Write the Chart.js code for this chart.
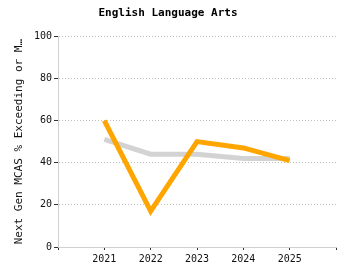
<!DOCTYPE html>
<html>
<head>
<meta charset="utf-8">
<script src="https://cdn.jsdelivr.net/npm/chart.js@4"></script>
<style>
html,body{margin:0;padding:0;background:#fff;}
#wrap{width:350px;height:280px;}
</style>
</head>
<body>
<div id="wrap"><canvas id="c" width="350" height="280"></canvas></div>
<script>
const years = [2021, 2022, 2023, 2024, 2025];
const schoolValues = [60, 17, 50, 47, 41];
const stateValues = [51, 44, 44, 42, 42];
const yTicks = [0, 20, 40, 60, 80, 100];
const chartTitle = 'English Language Arts';
const yTitle = 'Next Gen MCAS % Exceeding or M\u2026';

const FONT = "'DejaVu Sans Mono', monospace";

new Chart(document.getElementById('c'), {
  type: 'line',
  data: {
    datasets: [
      {
        label: 'School',
        data: years.map((y, i) => ({x: y, y: schoolValues[i]})),
        borderColor: '#FFA500',
        borderWidth: 5,
        pointRadius: 0,
        tension: 0,
        order: 0
      },
      {
        label: 'State',
        data: years.map((y, i) => ({x: y, y: stateValues[i]})),
        borderColor: '#D3D3D3',
        borderWidth: 5,
        pointRadius: 0,
        tension: 0,
        order: 1
      }
    ]
  },
  options: {
    responsive: false,
    animation: false,
    devicePixelRatio: 1,
    layout: {padding: {left: 0, right: 14, top: 0, bottom: 0}},
    plugins: {
      legend: {display: false},
      tooltip: {enabled: false},
      title: {
        display: true,
        text: chartTitle,
        color: '#000',
        font: {family: FONT, size: 11, weight: 'bold'},
        padding: {top: 7, bottom: 16}
      }
    },
    scales: {
      x: {
        type: 'linear',
        min: years[0] - 1,
        max: years[years.length - 1] + 1,
        ticks: {
          stepSize: 1,
          color: '#111',
          font: {family: FONT, size: 10},
          padding: 3,
          maxRotation: 0,
          callback: (v) => years.includes(v) ? String(v) : ''
        },
        grid: {drawOnChartArea: false, tickLength: 3, tickColor: '#333', tickWidth: 1},
        border: {color: '#d0d0d0', width: 1},
        afterFit: (s) => { s.height = 33; }
      },
      y: {
        min: 0,
        max: 100,
        afterBuildTicks: (s) => { s.ticks = yTicks.map(v => ({value: v})); },
        ticks: {
          color: '#111',
          font: {family: FONT, size: 10},
          padding: 2
        },
        grid: {
          color: '#c0c0c0',
          tickColor: '#333',
          tickBorderDash: [],
          tickLength: 4,
          drawTicks: true
        },
        border: {color: '#d0d0d0', width: 1, dash: [1, 2]},
        title: {
          display: true,
          text: yTitle,
          color: '#111',
          font: {family: FONT, size: 11},
          padding: {top: 13, bottom: 4}
        },
        afterFit: (s) => { s.width = 58; }
      }
    }
  }
});
</script>
</body>
</html>
